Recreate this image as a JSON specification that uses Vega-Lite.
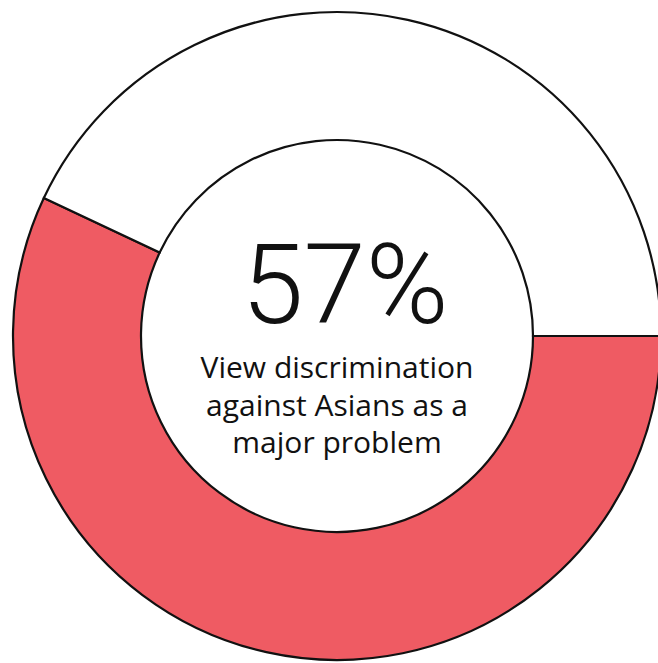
{
  "$schema": "https://vega.github.io/schema/vega-lite/v6.json",
  "autosize": "none",
  "padding": {"left": 16, "top": 9, "right": 0, "bottom": 0},
  "width": 642,
  "height": 654,
  "background": "white",
  "config": {"view": {"stroke": null}},
  "layer": [
    {
      "data": {"values": [
        {"answer": "Major problem", "pct": 57, "rank": 1},
        {"answer": "Other", "pct": 43, "rank": 2}
      ]},
      "mark": {"type": "arc", "outerRadius": 324, "innerRadius": 196, "stroke": "#111111", "strokeWidth": 2.2},
      "encoding": {
        "theta": {"field": "pct", "type": "quantitative", "stack": true, "scale": {"range": [1.5708, 7.8540]}},
        "order": {"field": "rank", "type": "quantitative"},
        "color": {"field": "answer", "type": "nominal", "scale": {"domain": ["Major problem", "Other"], "range": ["#ef5b63", "#ffffff"]}, "legend": null}
      }
    },
    {
      "data": {"values": [{"headline": "57%"}]},
      "mark": {"type": "text", "font": "Roboto", "fontWeight": 300, "fontSize": 112, "baseline": "alphabetic", "align": "center", "dy": -13, "dx": 8, "color": "#111111"},
      "encoding": {"text": {"field": "headline", "type": "nominal"}}
    },
    {
      "data": {"values": [{"caption": "View discrimination\nagainst Asians as a\nmajor problem"}]},
      "mark": {"type": "text", "font": "Open Sans", "fontWeight": 500, "fontSize": 30, "baseline": "alphabetic", "align": "center", "dy": 42, "lineHeight": 37.5, "lineBreak": "\n", "color": "#111111"},
      "encoding": {"text": {"field": "caption", "type": "nominal"}}
    }
  ]
}
